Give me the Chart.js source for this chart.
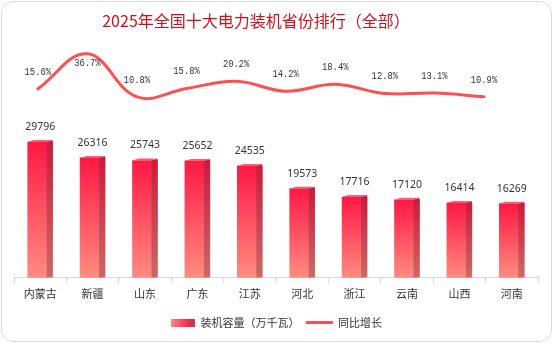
<!DOCTYPE html>
<html>
<head>
<meta charset="utf-8">
<script src="https://cdn.jsdelivr.net/npm/chart.js@4.4.1/dist/chart.umd.min.js"></script>
<style>
html, body { margin: 0; padding: 0; background: #fff; }
#card { position: absolute; left: 1px; top: 1px; width: 549px; height: 339px; border: 1px solid #dadada; border-radius: 12px; }
#chart { position: absolute; left: 0; top: 0; }
</style>
</head>
<body>
<div id="card"></div>
<canvas id="chart" width="554" height="344"></canvas>
<script>
// data
const provinces = ['内蒙古', '新疆', '山东', '广东', '江苏', '河北', '浙江', '云南', '山西', '河南'];
const capacity = [29796, 26316, 25743, 25652, 24535, 19573, 17716, 17120, 16414, 16269];
const growth = [15.6, 36.7, 10.8, 15.8, 20.2, 14.2, 18.4, 12.8, 13.1, 10.9];
const seriesNames = ['装机容量（万千瓦）', '同比增长'];
const titleText = '2025年全国十大电力装机省份排行（全部）';

const cjk = '"Noto Sans CJK SC", "Noto Sans", sans-serif';

// legend swatches
function barSwatch() {
    const c = document.createElement('canvas');
    c.width = 24; c.height = 8;
    const x = c.getContext('2d');
    const g = x.createLinearGradient(0, 0, 19, 0);
    g.addColorStop(0, '#ff8a80');
    g.addColorStop(1, '#ff2050');
    x.fillStyle = g;
    x.fillRect(0, 0, 19, 8);
    x.fillStyle = '#c83a4c';
    x.fillRect(19, 0, 5, 8);
    return c;
}
function lineSwatch() {
    const c = document.createElement('canvas');
    c.width = 27; c.height = 3;
    const x = c.getContext('2d');
    x.fillStyle = '#ff5050';
    x.fillRect(0, 0, 27, 3);
    return c;
}
const swatches = [barSwatch(), lineSwatch()];

const bar3d = {
    id: 'bar3d',
    afterDatasetDraw(chart, args) {
        if (args.index !== 0) return;
        const ctx = chart.ctx;
        args.meta.data.forEach(bar => {
            const {x, y, base, width} = bar.getProps(['x', 'y', 'base', 'width'], true);
            const l = x - width / 2, r = x + width / 2, s = r - 6;
            const g = ctx.createLinearGradient(0, y, 0, base);
            g.addColorStop(0, '#c61e3e');
            g.addColorStop(1, '#c96a68');
            ctx.save();
            ctx.fillStyle = g;
            ctx.beginPath();
            ctx.moveTo(s, y); ctx.lineTo(r, y - 2); ctx.lineTo(r, base - 1); ctx.lineTo(s, base);
            ctx.closePath(); ctx.fill();
            ctx.fillStyle = '#ff5c72';
            ctx.beginPath();
            ctx.moveTo(l, y); ctx.lineTo(s, y); ctx.lineTo(r, y - 2); ctx.lineTo(l + 6, y - 2);
            ctx.closePath(); ctx.fill();
            ctx.restore();
        });
    }
};

const labels = {
    id: 'labels',
    afterDatasetsDraw(chart) {
        const ctx = chart.ctx;
        const top = chart.chartArea.top;
        ctx.save();
        ctx.textAlign = 'center';
        ctx.textBaseline = 'middle';
        ctx.fillStyle = '#333';
        ctx.font = '10.5px "Noto Sans", sans-serif';
        chart.getDatasetMeta(0).data.forEach((bar, i) => {
            ctx.fillText(capacity[i], bar.x, bar.y - 15);
        });
        ctx.font = '11px "Liberation Mono", monospace';
        chart.getDatasetMeta(1).data.forEach((pt, i) => {
            ctx.save();
            ctx.translate(pt.x, Math.max(pt.y - 17, top + 13));
            ctx.scale(0.8, 1);
            ctx.fillText(growth[i].toFixed(1) + '%', 0, 0);
            ctx.restore();
        });
        ctx.restore();
    }
};

const title = {
    id: 'cardTitle',
    afterDraw(chart) {
        const ctx = chart.ctx;
        ctx.save();
        ctx.fillStyle = '#d0101c';
        ctx.font = '16px ' + cjk;
        ctx.textAlign = 'center';
        ctx.textBaseline = 'middle';
        ctx.fillText(titleText, chart.width / 2 - 21, 21);
        ctx.restore();
    }
};

new Chart(document.getElementById('chart'), {
    type: 'bar',
    data: {
        labels: provinces,
        datasets: [
            {
                label: seriesNames[0],
                data: capacity,
                order: 1,
                grouped: false,
                barThickness: 25,
                backgroundColor: c => {
                    const chart = c.chart;
                    if (!chart.chartArea || c.raw == null) return '#ff4060';
                    const y = chart.scales.y.getPixelForValue(c.raw);
                    const g = chart.ctx.createLinearGradient(0, y, 0, chart.chartArea.bottom);
                    g.addColorStop(0, '#ff1845');
                    g.addColorStop(1, '#ff8c80');
                    return g;
                }
            },
            {
                type: 'line',
                label: seriesNames[1],
                data: growth.map((v, i) => ({x: i, y: v})),
                xAxisID: 'x2',
                yAxisID: 'y2',
                order: 0,
                borderColor: '#ff5050',
                borderWidth: 3,
                borderCapStyle: 'round',
                tension: 0.4,
                pointRadius: 0,
                clip: false
            }
        ]
    },
    options: {
        responsive: false,
        devicePixelRatio: 1,
        animation: false,
        layout: { padding: { left: 14, right: 16, top: 50, bottom: 6 } },
        scales: {
            x: {
                grid: { drawOnChartArea: false, tickLength: 5, color: '#d9d9d9' },
                border: { color: '#d9d9d9' },
                ticks: { padding: 4, color: '#333', font: { size: 11, family: cjk } },
                afterFit: scale => { scale.height += 5; }
            },
            x2: {
                type: 'linear', display: false, offset: false, bounds: 'data',
                grid: { offset: false }, min: -0.48, max: 10.09
            },
            y: { display: false, min: 0, max: 50000 },
            y2: { display: false, min: -98, max: 39 }
        },
        plugins: {
            tooltip: { enabled: false },
            legend: {
                position: 'bottom',
                labels: {
                    usePointStyle: true,
                    pointStyleWidth: 25,
                    padding: 8,
                    color: '#333',
                    font: { size: 11, family: cjk },
                    generateLabels: chart => seriesNames.map((n, i) => ({
                        text: n,
                        pointStyle: swatches[i],
                        datasetIndex: i,
                        fillStyle: 'transparent',
                        strokeStyle: 'transparent',
                        lineWidth: 0,
                        fontColor: '#333'
                    }))
                }
            }
        }
    },
    plugins: [bar3d, labels, title]
});
</script>
</body>
</html>
